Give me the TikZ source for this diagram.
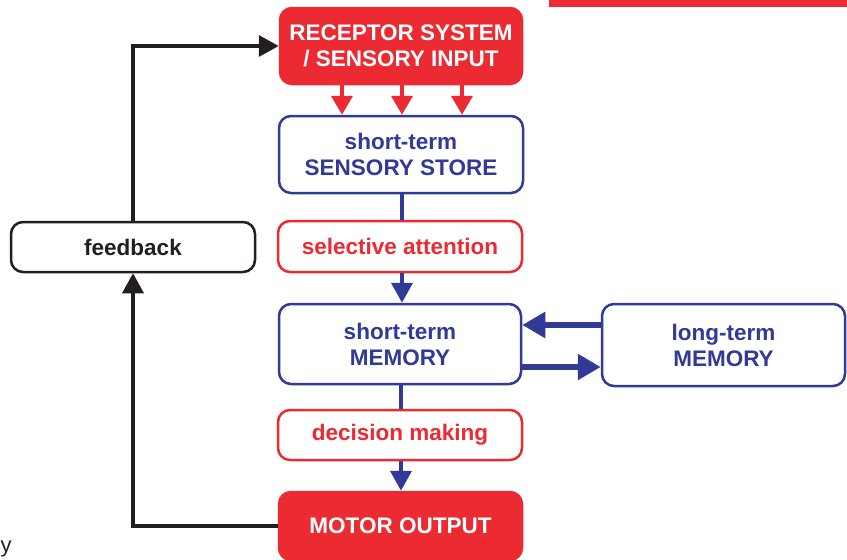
\documentclass[tikz,border=0pt]{standalone}
\usepackage{fontspec}
\setmainfont{Liberation Sans}
\usetikzlibrary{arrows.meta}
\definecolor{sigred}{HTML}{EC2A32}
\definecolor{sigblue}{HTML}{313A96}
\definecolor{sigblack}{HTML}{231F20}
\begin{document}
\begin{tikzpicture}[x=1pt,y=-1pt,
  box/.style={rectangle,rounded corners=12pt,line width=2.5pt,inner sep=0pt,
    align=center,font=\fontsize{22.5}{26}\selectfont\bfseries},
  solidred/.style={box,fill=sigred,draw=sigred,text=white},
  outred/.style={box,draw=sigred,fill=white,text=sigred},
  outblue/.style={box,draw=sigblue,fill=white,text=sigblue},
  outblack/.style={box,draw=sigblack,fill=white,text=sigblack},
  redarrow/.style={draw=sigred,line width=4pt,-{Triangle[width=21pt,length=19pt]}},
  bluearrow/.style={draw=sigblue,line width=4pt,-{Triangle[width=21pt,length=20pt]}},
  blueline/.style={draw=sigblue,line width=4pt},
  thickblue/.style={draw=sigblue,line width=5.5pt,-{Triangle[width=25pt,length=23pt]}},
  blackarrow/.style={draw=sigblack,line width=3.5pt,-{Triangle[width=21pt,length=20pt]}}
]
\useasboundingbox (0,0) rectangle (847,560);

% corner bar
\fill[sigred] (549,0) rectangle (847,6.5);

% stages of processing
\node[solidred,minimum width=242pt,minimum height=76pt] (rec) at (401,46)
  {RECEPTOR SYSTEM\\/ SENSORY INPUT};
\node[outblue,minimum width=244pt,minimum height=77pt] (sss) at (401,154.5)
  {short-term\\SENSORY STORE};
\node[outred,minimum width=244pt,minimum height=51pt] (sel) at (400,246.5)
  {selective attention};
\node[outblue,minimum width=242pt,minimum height=80pt] (stm) at (400,344)
  {short-term\\MEMORY};
\node[outblue,minimum width=243pt,minimum height=82pt] (ltm) at (723.5,345)
  {long-term\\MEMORY};
\node[outred,minimum width=244pt,minimum height=50pt] (dec) at (400,435)
  {decision making};
\node[solidred,minimum width=243pt,minimum height=68pt] (mot) at (400.5,526)
  {MOTOR OUTPUT};
\node[outblack,minimum width=244pt,minimum height=50pt] (fb) at (133,247)
  {feedback};

% sensory input into the store
\foreach \dx in {-59,1,61}
  \draw[redarrow] ([xshift=\dx pt]rec.south) -- ([xshift=\dx pt]rec.south |- sss.north);

% main flow
\draw[blueline] ([xshift=1pt]sss.south) -- ([xshift=1pt]sss.south |- sel.north);
\draw[bluearrow] ([xshift=2pt]sel.south) -- ([xshift=2pt]sel.south |- stm.north);
\draw[blueline] ([xshift=1pt]stm.south) -- ([xshift=1pt]stm.south |- dec.north);
\draw[bluearrow] ([xshift=1pt]dec.south) -- ([xshift=1pt]dec.south |- mot.north);

% exchange with long-term memory
\draw[thickblue] ([yshift=20pt]ltm.west) -- ([yshift=20pt]ltm.west -| stm.east);
\draw[thickblue] ([yshift=-23pt]stm.east) -- ([yshift=-23pt]stm.east -| ltm.west);

% feedback loop
\draw[blackarrow] (mot.west) -- (mot.west -| fb.south) -- (fb.south);
\draw[blackarrow] (fb.north) |- (rec.west);

% trailing letter at the lower edge
\node[anchor=base west,inner sep=0pt,font=\fontsize{22}{26}\selectfont,text=sigblack] (tail) at (0.5,552) {y};
\end{tikzpicture}
\end{document}
